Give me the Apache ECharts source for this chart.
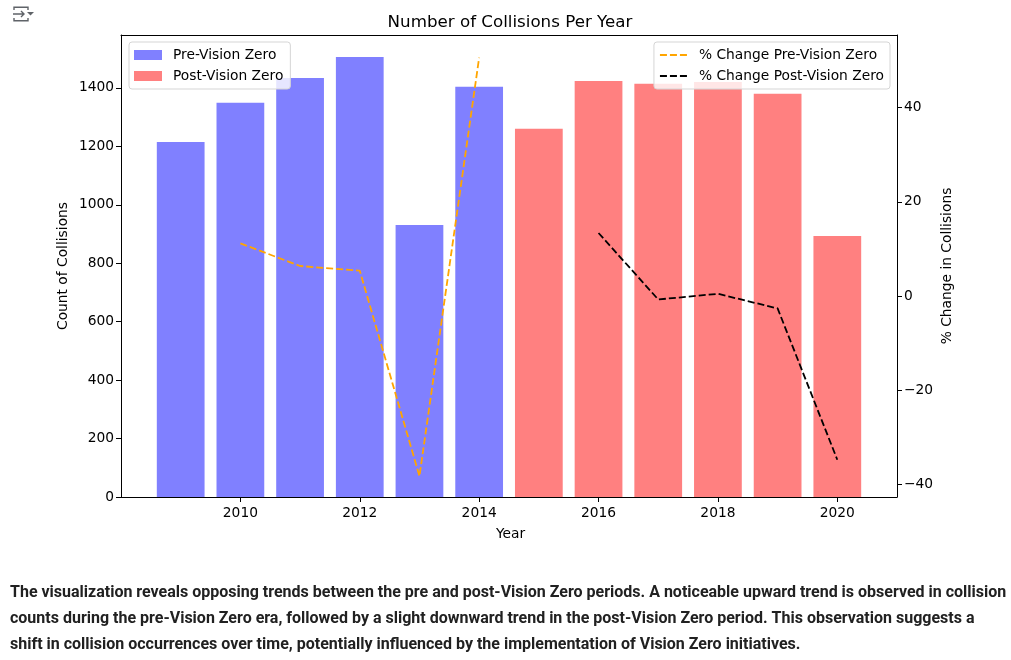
<!DOCTYPE html>
<html>
<head>
<meta charset="utf-8">
<style>
html,body{margin:0;padding:0;background:#fff;width:1011px;height:660px;overflow:hidden}
#c{position:absolute;left:0;top:0;width:1011px;height:660px}
#icon{position:absolute;left:12px;top:5px}
</style>
<script src="https://cdn.jsdelivr.net/npm/echarts@6/dist/echarts.min.js"></script>
</head>
<body>
<div id="c"></div>
<svg id="icon" width="24" height="18" viewBox="0 0 24 18" fill="none" stroke="#5f6368" stroke-width="1.4">
<path d="M2 5V2.2h14V5M2 13v2.8h14V13"/><path d="M1 9h11M9 6l3 3-3 3"/><path d="M15 7h7l-3.5 3.5z" fill="#5f6368" stroke="none"/>
</svg>
<script>
const preYears = [2009, 2010, 2011, 2012, 2013, 2014];
const preCounts = [1215, 1349, 1434, 1506, 931, 1404];
const postYears = [2015, 2016, 2017, 2018, 2019, 2020];
const postCounts = [1260, 1424, 1414, 1420, 1380, 893];
const preChangeYears = [2010, 2011, 2012, 2013, 2014];
const preChange = [11.2, 6.4, 5.4, -38.2, 50.6];
const postChangeYears = [2016, 2017, 2018, 2019, 2020];
const postChange = [13.4, -0.7, 0.5, -2.6, -34.7];
const xTicks = [2010, 2012, 2014, 2016, 2018, 2020];
const leftTicks = [0, 200, 400, 600, 800, 1000, 1200, 1400];
const rightTicks = [-40, -20, 0, 20, 40];
const caption = [
 'The visualization reveals opposing trends between the pre and post-Vision Zero periods. A noticeable upward trend is observed in collision',
 'counts during the pre-Vision Zero era, followed by a slight downward trend in the post-Vision Zero period. This observation suggests a',
 'shift in collision occurrences over time, potentially influenced by the implementation of Vision Zero initiatives.'
];
const pairs = (xs, ys) => xs.map((x, i) => [x, ys[i]]);
const F = 'DejaVu Sans';
const FS = 13.8;
const tick = {show: true, length: 5, inside: false, lineStyle: {color: '#000', width: 1}};
const line = {show: true, onZero: false, lineStyle: {color: '#000', width: 1}};
const legendBase = {
  orient: 'vertical', top: 42, itemWidth: 28, itemHeight: 10, itemGap: 7,
  backgroundColor: 'rgba(255,255,255,0.8)', borderColor: '#d5d5d5',
  borderWidth: 1, borderRadius: 3,
  textStyle: {fontFamily: F, fontSize: FS, color: '#000', padding: [0, 0, 0, 6]}
};
const chart = echarts.init(document.getElementById('c'), null, {renderer: 'canvas'});
chart.setOption({
  animation: false,
  backgroundColor: '#fff',
  title: {text: 'Number of Collisions Per Year', left: 505, top: 9, textAlign: 'center',
    textStyle: {fontFamily: F, fontSize: 16.7, fontWeight: 'normal', color: '#000'}},
  grid: {left: 121, right: 114, top: 35, bottom: 163, show: false},
  legend: [
    Object.assign({}, legendBase, {left: 129, padding: [6, 7, 6, 5], data: [{name: 'Pre-Vision Zero', icon: 'rect'}, {name: 'Post-Vision Zero', icon: 'rect'}]}),
    Object.assign({}, legendBase, {right: 121, padding: [6, 6, 6, 5], itemStyle: {opacity: 0}, data: ['% Change Pre-Vision Zero', '% Change Post-Vision Zero']})
  ],
  xAxis: [
    {type: 'value', min: 2008, max: 2021, name: 'Year', nameLocation: 'middle', nameGap: 30,
      nameTextStyle: {fontFamily: F, fontSize: FS, color: '#000', padding: [0, 0, 0, 3]},
      axisLine: line, axisTick: Object.assign({customValues: xTicks}, tick),
      axisLabel: {customValues: xTicks, fontFamily: F, fontSize: FS, color: '#000', margin: 9, formatter: v => String(v)},
      splitLine: {show: false}},
    {type: 'value', min: 2008, max: 2021, position: 'top', axisLine: line, axisTick: {show: false}, axisLabel: {show: false}, splitLine: {show: false}}
  ],
  yAxis: [
    {type: 'value', min: 0, max: 1581, name: 'Count of Collisions', nameLocation: 'middle', nameGap: 51, nameRotate: 90, nameMoveOverlap: false,
      nameTextStyle: {fontFamily: F, fontSize: FS, color: '#000'},
      axisLine: line, axisTick: Object.assign({customValues: leftTicks}, tick),
      axisLabel: {customValues: leftTicks, fontFamily: F, fontSize: FS, color: '#000', margin: 7, padding: [2, 0, 0, 0], formatter: v => String(v)},
      splitLine: {show: false}},
    {type: 'value', min: -42.6, max: 55.4, position: 'right', name: '% Change in Collisions', nameLocation: 'middle', nameGap: 43, nameRotate: 90, nameMoveOverlap: false,
      nameTextStyle: {fontFamily: F, fontSize: FS, color: '#000'},
      axisLine: line, axisTick: Object.assign({customValues: rightTicks}, tick),
      axisLabel: {customValues: rightTicks, fontFamily: F, fontSize: FS, color: '#000', margin: 7, padding: [2, 0, 0, 0],
        formatter: v => String(v).replace('-', '\u2212')},
      splitLine: {show: false}}
  ],
  series: [
    {name: 'Pre-Vision Zero', type: 'bar', barWidth: '80%', barGap: '-100%', itemStyle: {color: '#8080ff'}, data: pairs(preYears, preCounts)},
    {name: 'Post-Vision Zero', type: 'bar', barWidth: '80%', barGap: '-100%', itemStyle: {color: '#ff8080'}, data: pairs(postYears, postCounts)},
    {name: '% Change Pre-Vision Zero', type: 'line', yAxisIndex: 1, symbol: 'none', z: 5, itemStyle: {color: '#ffa500'},
      lineStyle: {color: '#ffa500', width: 1.8, type: [7, 3]}, data: pairs(preChangeYears, preChange)},
    {name: '% Change Post-Vision Zero', type: 'line', yAxisIndex: 1, symbol: 'none', z: 5, itemStyle: {color: '#000'},
      lineStyle: {color: '#000', width: 1.8, type: [7, 3]}, data: pairs(postChangeYears, postChange)}
  ],
  graphic: caption.map((t, i) => ({type: 'text', left: 10, top: 585 + i * 26, silent: true,
    style: {text: t, fontFamily: 'Roboto', fontWeight: 'bold', fontSize: 16, fill: '#212121'}}))
});
</script>
</body>
</html>
